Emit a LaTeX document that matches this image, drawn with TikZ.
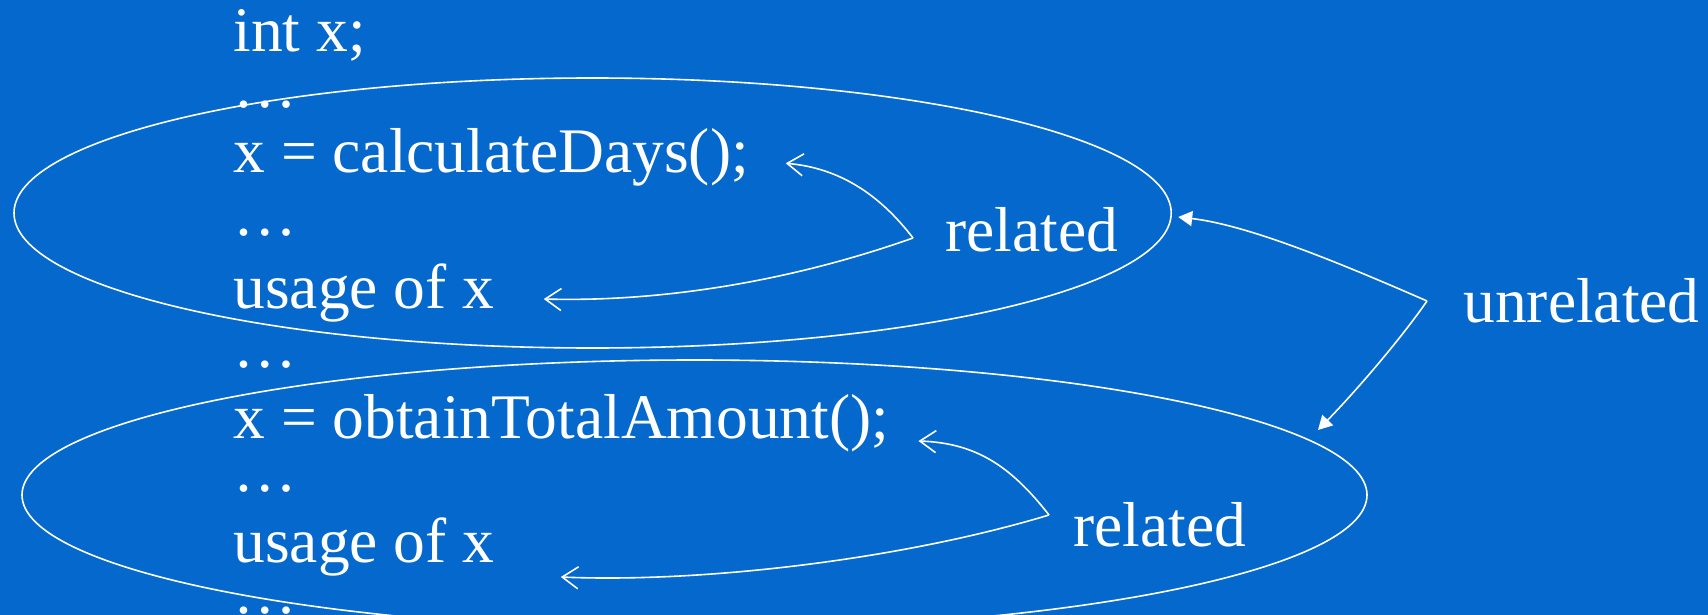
\documentclass[tikz,border=0pt]{standalone}
\usepackage{fontspec}
\setmainfont{Liberation Serif}
\usepackage{xcolor}
\usetikzlibrary{shapes.geometric,arrows.meta,positioning,calc}
\definecolor{slideblue}{RGB}{4,104,204}

\begin{document}
\begin{tikzpicture}[x=0.5pt,y=-0.5pt,
        codeline/.style={anchor=base west,inner sep=0pt,text=white,font=\fontsize{31.75}{38}\selectfont},
        region/.style={draw=white,line width=0.8pt,ellipse,inner sep=0pt,outer sep=0pt},
        relarrow/.style={white,line width=0.8pt,-{Straight Barb[length=8pt,width=11pt]}},
        unrelarrow/.style={white,line width=0.8pt,-{Triangle[length=7pt,width=7.5pt]}}]
        % Slide background
        \fill[slideblue] (0,0) rectangle (1708,615);
        \useasboundingbox (0,0) rectangle (1708,615);

        % Code lines
        \node[codeline] (intx) at (233,52) {int x;};
        \node[codeline] (dotsA) at (233,107.5) {…};
        \node[codeline] (calcdays) at (233,172) {x = calculateDays();};
        \node[codeline] (dotsB) at (233,235.5) {…};
        \node[codeline] (usageA) at (233,308) {usage of x};
        \node[codeline] (dotsC) at (233,367.5) {…};
        \node[codeline] (obtain) at (233,438) {x = obtainTotalAmount();};
        \node[codeline] (dotsD) at (233,491.5) {…};
        \node[codeline] (usageB) at (233,562) {usage of x};
        \node[codeline] (dotsE) at (233,613.5) {…};

        % Scopes of the two uses
        \node[region,minimum width=578.6pt,minimum height=135pt] (blockA) at (592.6,213) {};
        \node[region,minimum width=672.5pt,minimum height=135pt] (blockB) at (694.5,495) {};

        % Labels
        \node[codeline] (relA) at (945,251.7) {related};
        \node[codeline] (relB) at (1073,546) {related};
        \node[codeline] (unrel) at (1463,322) {unrelated};

        \coordinate (relAtail) at ([shift={(-16pt,6.85pt)}]relA.base west);
        \coordinate (relBtail) at ([shift={(-12pt,15.5pt)}]relB.base west);
        \coordinate (unreltail) at ([shift={(-18pt,10.5pt)}]unrel.base west);

        % Related arrows
        \draw[relarrow] (relAtail) .. controls (880,195) and (840,168) .. ([shift={(18.3pt,4.35pt)}]calcdays.base east);
        \draw[relarrow] (relAtail) .. controls (780,285) and (650,302) .. ([shift={(24.5pt,4.5pt)}]usageA.base east);
        \draw[relarrow] (relBtail) .. controls (1010,465) and (975,443) .. ([shift={(14.5pt,-1.5pt)}]obtain.base east);
        \draw[relarrow] (relBtail) .. controls (900,560) and (700,583) .. ([shift={(33pt,-7.5pt)}]usageB.base east);

        % Unrelated arrows
        \draw[unrelarrow] (unreltail) .. controls (1340,263) and (1248,225) .. ([shift={(3.5pt,-2pt)}]blockA.east);
        \draw[unrelarrow] (unreltail) .. controls (1400,340) and (1355,392) .. ([shift={(-24.5pt,32.5pt)}]blockB.east);
    \end{tikzpicture}
\end{document}
